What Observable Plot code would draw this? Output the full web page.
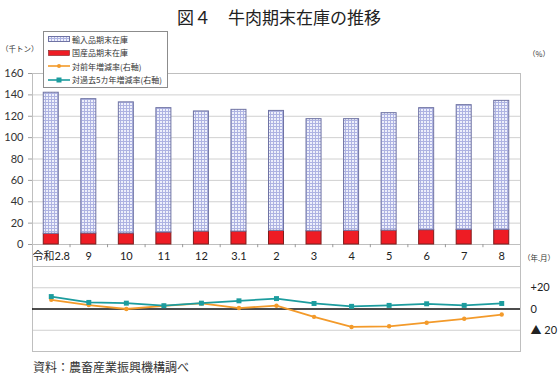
<!DOCTYPE html>
<html><head><meta charset="utf-8">
<script src="https://cdn.jsdelivr.net/npm/d3@7"></script>
<script src="https://cdn.jsdelivr.net/npm/@observablehq/plot@0.6"></script>
<style>
body{margin:0;background:#fff;}
#wrap{position:relative;width:558px;height:380px;font-family:"Noto Sans CJK JP","Noto Sans",sans-serif;color:#222;overflow:hidden;}
.abs{position:absolute;white-space:nowrap;line-height:1;}
#legend{position:absolute;left:43px;top:31px;width:125px;height:57px;box-sizing:border-box;border:1px solid #8c8c8c;background:#fff;}
.row{position:absolute;left:4px;height:12px;display:flex;align-items:center;font-size:8px;color:#333;white-space:nowrap;}
.row svg{margin-right:2px;flex:none;}
#gap{position:absolute;left:32px;top:244px;width:489px;height:22px;box-sizing:border-box;border-left:1px solid #bfbfbf;border-right:1px solid #bfbfbf;}
</style></head>
<body>
<div id="wrap">
<svg width="0" height="0" style="position:absolute">
  <defs>
    <pattern id="hatch" width="3" height="3" patternUnits="userSpaceOnUse">
      <rect width="3" height="3" fill="#eef0fb"></rect>
      <rect width="1" height="3" fill="#aeb3e2"></rect>
      <rect width="3" height="1" fill="#aeb3e2"></rect>
    </pattern>
  </defs>
</svg>
<div class="abs" style="left:0;top:8px;width:558px;text-align:center;font-size:17px;">図４　牛肉期末在庫の推移</div>
<div class="abs" style="left:1px;top:45px;font-size:7.5px;color:#333;">（千トン）</div>
<div class="abs" style="left:528px;top:50px;font-size:7.5px;color:#333;">（%）</div>
<div class="abs" style="left:523px;top:254px;font-size:7.5px;color:#333;">（年.月）</div>
<div id="upper" style="position:absolute;left:0;top:0;"></div>
<div id="lower" style="position:absolute;left:0;top:262px;"></div>
<div id="gap"></div>
<div id="legend"></div>
<div class="abs" style="left:33px;top:361px;font-size:12px;color:#333;">資料：農畜産業振興機構調べ</div>
</div>
<script>
const months = ["令和2.8","9","10","11","12","3.1","2","3","4","5","6","7","8"];
const importStock = [132,125.7,122.7,116.4,112.4,113.9,112.2,104.9,104.5,109.9,114.2,116.7,120.7];
const domesticStock = [10,10.3,10.3,11.2,12.1,12.1,12.8,12.4,12.8,13,13.4,13.7,13.7];
const yoyRate = [8.6,3.7,0,3,5.2,0.9,3.1,-7.4,-16.9,-16.3,-12.9,-9.2,-5.2];
const fiveYearRate = [11.7,6.2,5.5,3.1,5.5,7.7,9.8,5.2,2.5,3.4,4.9,3.4,5.2];
const leftTicks = [0,20,40,60,80,100,120,140,160];
const rightTicks = [-20,0,20];
const rightTickLabels = ["▲ 20","0","+20"];
const seriesNames = ["輸入品期末在庫","国産品期末在庫","対前年増減率(右軸)","対過去5カ年増減率(右軸)"];

const ORANGE = "#f39a2a", TEAL = "#1c9c9e", RED = "#ee1c24";
const numFont = "Lato, 'Noto Sans CJK JP', sans-serif";

const stock = months.map((m,i)=>({m, dom: domesticStock[i], total: domesticStock[i] + importStock[i]}));
const rates = months.map((m,i)=>({m, yoy: yoyRate[i], five: fiveYearRate[i]}));

const upper = Plot.plot({
  width: 558, height: 266,
  marginTop: 73, marginBottom: 22, marginLeft: 32, marginRight: 38,
  style: {background: "transparent", overflow: "visible"},
  x: {type: "band", domain: months, paddingInner: 0.6, paddingOuter: 0.3, round: false, axis: null},
  y: {domain: [0,160], axis: null},
  marks: [
    Plot.gridY(leftTicks, {stroke: "#d0d0d0", strokeOpacity: 1}),
    Plot.frame({stroke: "#bfbfbf"}),
    Plot.barY(stock, {x: "m", y1: 0, y2: "dom", fill: RED, stroke: "#7d1d1d", strokeWidth: 1}),
    Plot.barY(stock, {x: "m", y1: "dom", y2: "total", fill: "url(#hatch)", stroke: "#6f73a3", strokeWidth: 1}),
    Plot.ruleX(months.slice(0,-1), {x: d=>d, dx: 18.75, y1: 0, y2: -3, stroke: "#999"}),
    Plot.axisY(leftTicks, {anchor: "left", tickSize: 4, tickPadding: 5, fontSize: 11, stroke: "#a0a0a0", fill: "#333", fontFamily: numFont, label: null}),
    Plot.axisX({anchor: "bottom", tickSize: 0, tickPadding: 8, fontSize: 11, fill: "#222", fontFamily: numFont, label: null})
  ]
});
document.getElementById("upper").appendChild(upper);

const lower = Plot.plot({
  width: 558, height: 95,
  marginTop: 4, marginBottom: 6, marginLeft: 32, marginRight: 38,
  style: {background: "transparent", overflow: "visible"},
  x: {type: "point", domain: months, padding: 0.5, round: false, axis: null},
  y: {domain: [-40,40], axis: null},
  marks: [
    Plot.gridY([-40,-20,20,40], {stroke: "#d0d0d0", strokeOpacity: 1}),
    Plot.frame({stroke: "#bfbfbf"}),
    Plot.ruleY([0], {stroke: "#111", strokeWidth: 1.6}),
    Plot.lineY(rates, {x: "m", y: "yoy", stroke: ORANGE, strokeWidth: 1.8}),
    Plot.dot(rates, {x: "m", y: "yoy", fill: ORANGE, r: 2.2}),
    Plot.lineY(rates, {x: "m", y: "five", stroke: TEAL, strokeWidth: 1.8}),
    Plot.dot(rates, {x: "m", y: "five", fill: TEAL, symbol: "square", r: 2.8}),
    Plot.axisY(rightTicks, {anchor: "right", tickSize: 0, tickPadding: 10, textAnchor: "start", fontSize: 11, fill: "#222", fontFamily: numFont, tickFormat: d => rightTickLabels[rightTicks.indexOf(d)], label: null})
  ]
});
document.getElementById("lower").appendChild(lower);

// legend
const legend = document.getElementById("legend");
const swatches = [
  `<svg width="22" height="8"><rect x="0.5" y="1.5" width="21" height="5" fill="url(#hatch)" stroke="#6f73a3"/></svg>`,
  `<svg width="22" height="8"><rect x="0.5" y="1.5" width="21" height="5" fill="${RED}" stroke="#7d1d1d" stroke-width="0.6"/></svg>`,
  `<svg width="22" height="8"><line x1="0" y1="4" x2="22" y2="4" stroke="${ORANGE}" stroke-width="1.6"/><circle cx="11" cy="4" r="2" fill="${ORANGE}"/></svg>`,
  `<svg width="22" height="8"><line x1="0" y1="4" x2="22" y2="4" stroke="${TEAL}" stroke-width="1.6"/><rect x="8.5" y="1.5" width="5" height="5" fill="${TEAL}"/></svg>`
];
seriesNames.forEach((name,i)=>{
  const r = document.createElement("div");
  r.className = "row";
  r.style.top = (1 + i*13.6) + "px";
  r.innerHTML = swatches[i] + `<span>${name}</span>`;
  legend.appendChild(r);
});
</script>
</body></html>
